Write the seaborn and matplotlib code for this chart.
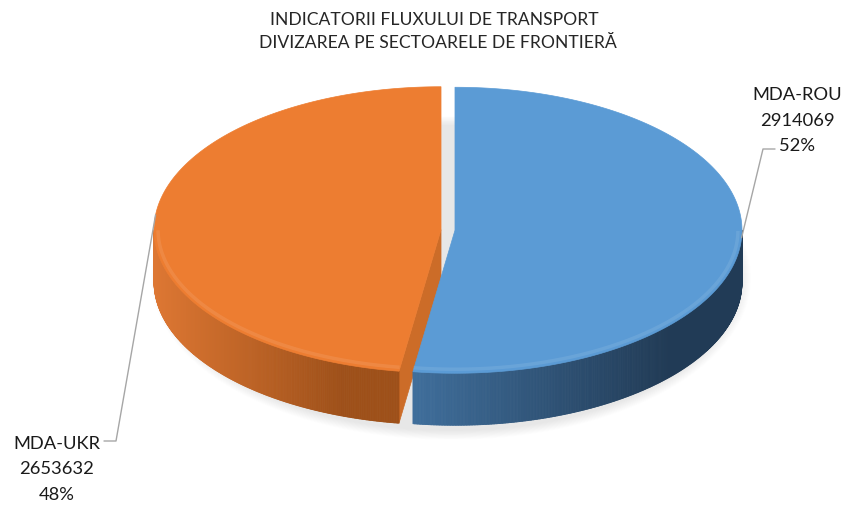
import numpy as np
import matplotlib
matplotlib.use("Agg")
import matplotlib.pyplot as plt
import seaborn as sns
from matplotlib.collections import PolyCollection
from matplotlib.patches import Polygon, Ellipse
from matplotlib.colors import to_rgb

# Data
title_lines = ["INDICATORII FLUXULUI DE TRANSPORT",
               "DIVIZAREA PE SECTOARELE DE FRONTIERĂ"]
sectors = ["MDA-ROU", "MDA-UKR"]
flows = [2914069, 2653632]

# Colours (top face, wall light side, wall dark side, cut face)
top_colors = sns.color_palette(["#5B9BD5", "#ED7D31"])
wall_light = ["#3F6E9B", "#DD7733"]
wall_dark = ["#213B56", "#9E5019"]
cut_colors = ["#2E5378", "#CC6C28"]

sns.set_theme(style="white")
plt.rcParams["font.family"] = ["Lato", "DejaVu Sans"]

W, H = 847, 507
fig = plt.figure(figsize=(W / 100, H / 100), dpi=100)
ax = fig.add_axes([0, 0, 1, 1])
ax.set_xlim(0, W)
ax.set_ylim(H, 0)
ax.axis("off")

# pie geometry (pixels)
cx, cy = 448, 230
rx, ry = 287, 143
depth = 52
explode = 7


def rim(ox, oy, th, dy=0.0, shrink=0.0):
    return (ox + (rx - shrink) * np.cos(th),
            oy - (ry - shrink) * np.sin(th) + dy)


# soft shadow under the pie
for k in range(12):
    ax.add_patch(Ellipse((cx + 3, cy + 48), 2 * (rx + 2 + k), 2 * (ry + 10 + k * 0.8),
                         color="#909090", alpha=0.012, lw=0, zorder=1))

shares = np.array(flows) / sum(flows)
bounds = 90 - 360 * np.concatenate([[0], np.cumsum(shares)])

slices = []
for i in range(len(flows)):
    a0, a1 = bounds[i], bounds[i + 1]
    mid = np.radians((a0 + a1) / 2)
    ox = cx + explode * np.cos(mid)
    oy = cy - explode * np.sin(mid) * ry / rx
    th = np.radians(np.linspace(a0, a1, 600))
    slices.append((ox, oy, th))

# cut faces that turn towards the viewer
for i, (ox, oy, th) in enumerate(slices):
    for edge, turn in ((th[0], np.pi / 2), (th[-1], -np.pi / 2)):
        if np.sin(edge + turn) < 0:
            ex, ey = rim(ox, oy, edge)
            face = [(ox, oy), (ex, ey), (ex, ey + depth), (ox, oy + depth)]
            ax.add_patch(Polygon(face, closed=True, fc=cut_colors[i],
                                 ec=cut_colors[i], lw=0.5, zorder=2.5))

# walls (front half only) with a left-to-right gradient
for i, (ox, oy, th) in enumerate(slices):
    front = th[np.sin(th) <= 0.001]
    if len(front) < 2:
        continue
    xs, ys = rim(ox, oy, front)
    polys, cols = [], []
    x_lo, x_hi = xs.min(), xs.max()
    c_l, c_d = np.array(to_rgb(wall_light[i])), np.array(to_rgb(wall_dark[i]))
    for j in range(len(front) - 1):
        polys.append([(xs[j], ys[j]), (xs[j + 1], ys[j + 1]),
                      (xs[j + 1], ys[j + 1] + depth), (xs[j], ys[j] + depth)])
        t = ((xs[j] + xs[j + 1]) / 2 - x_lo) / max(x_hi - x_lo, 1)
        t = min(1.0, t * 1.3)
        cols.append(c_l * (1 - t) + c_d * t)
    ax.add_collection(PolyCollection(polys, facecolors=cols, edgecolors=cols,
                                     linewidths=0.6, zorder=3))

# top faces
for i, (ox, oy, th) in enumerate(slices):
    xs, ys = rim(ox, oy, th)
    pts = np.column_stack([np.r_[ox, xs], np.r_[oy, ys]])
    ax.add_patch(Polygon(pts, closed=True, fc=top_colors[i], ec=top_colors[i],
                         lw=0.5, zorder=4))
    # light bevel along the front rim
    front = th[np.sin(th) <= 0]
    if len(front) > 1:
        bx, by = rim(ox, oy, front, shrink=4)
        hl = np.array(to_rgb(top_colors[i])) * 0.7 + 0.3
        ax.plot(bx, by, color=hl, lw=2.5, alpha=0.3, zorder=5,
                solid_capstyle="butt")

# labels with leader lines
anchor_deg = [-3, 174]
label_pos = [(797, 95), (57, 444)]
elbow = [[(763, 149), (775, 149)], [(116, 441), (104, 441)]]
for i, (ox, oy, th) in enumerate(slices):
    a = np.radians(anchor_deg[i])
    axp, ayp = rim(ox, oy, a)
    xs = [axp] + [p[0] for p in elbow[i]]
    ys = [ayp] + [p[1] for p in elbow[i]]
    ax.plot(xs, ys, color="#A6A6A6", lw=1.0, zorder=6)
    pct = f"{shares[i] * 100:.0f}%"
    lx, ly = label_pos[i]
    for k, s in enumerate([sectors[i], str(flows[i]), pct]):
        ax.text(lx, ly + k * 25.5, s, ha="center", va="center",
                fontsize=13.2, color="#1a1a1a", zorder=7)

ax.text(434, 20, title_lines[0], ha="center", va="center", fontsize=12.6,
        color="#262626")
ax.text(438, 43, title_lines[1], ha="center", va="center", fontsize=12.6,
        color="#262626")

fig.savefig("out.png", dpi=100)
